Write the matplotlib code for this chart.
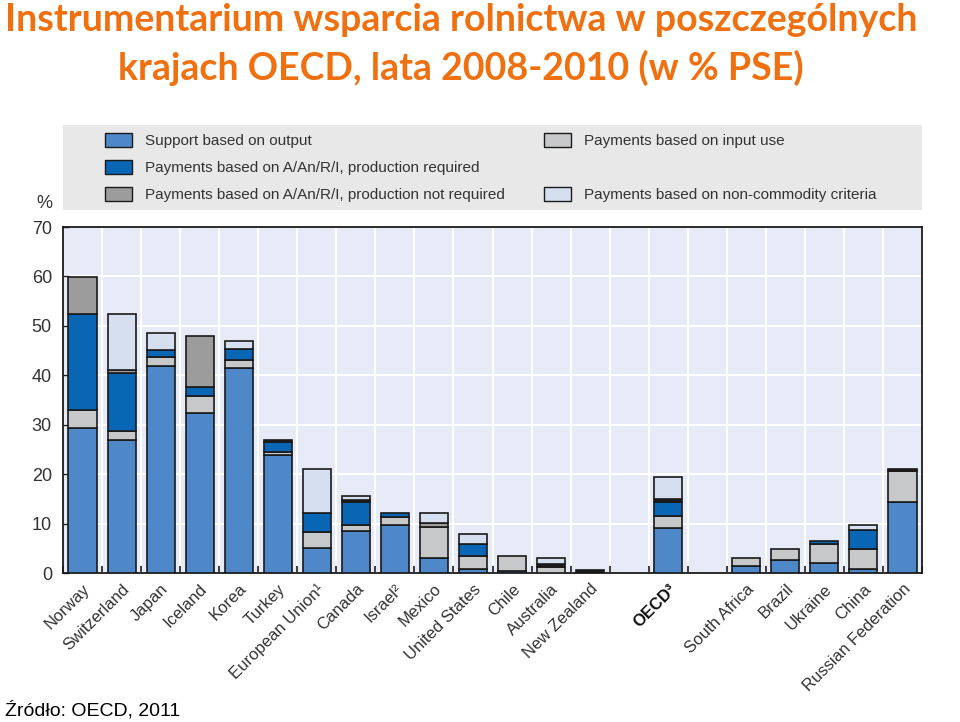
import numpy as np
import matplotlib
matplotlib.use('Agg')
import matplotlib.pyplot as plt
from matplotlib.patches import Patch

countries = ['Norway', 'Switzerland', 'Japan', 'Iceland', 'Korea', 'Turkey',
             'European Union¹', 'Canada', 'Israel²', 'Mexico', 'United States',
             'Chile', 'Australia', 'New Zealand', '', 'OECD³', '',
             'South Africa', 'Brazil', 'Ukraine', 'China', 'Russian Federation']

# % of PSE, stacked from bottom
output   = [29.4, 26.9, 41.8, 32.4, 41.4, 23.8, 5.0, 8.5, 9.7, 3.0, 0.8, 0.5, 0.0, 0.0, 0, 9.2, 0, 1.5, 2.6, 2.0, 0.8, 14.3]
inputs   = [3.5, 1.8, 1.9, 3.4, 1.6, 0.7, 3.2, 1.2, 1.7, 6.4, 2.7, 2.9, 1.3, 0.0, 0, 2.4, 0, 1.5, 2.3, 3.8, 4.1, 6.3]
prod_req = [19.4, 11.8, 1.4, 1.8, 2.4, 2.0, 3.9, 4.7, 0.7, 0.0, 2.4, 0.0, 0.0, 0.0, 0, 2.8, 0, 0.0, 0.0, 0.7, 3.9, 0.0]
not_req  = [7.6, 0.6, 0.0, 10.4, 0.0, 0.0, 0.0, 0.0, 0.0, 0.8, 0.0, 0.0, 0.0, 0.0, 0, 0.0, 0, 0.0, 0.0, 0.0, 0.0, 0.0]
other    = [0.0, 0.0, 0.0, 0.0, 0.0, 0.4, 0.0, 0.4, 0.0, 0.0, 0.0, 0.0, 0.5, 0.6, 0, 0.5, 0, 0.0, 0.0, 0.0, 0.0, 0.4]
noncomm  = [0.0, 11.3, 3.5, 0.0, 1.5, 0.0, 9.0, 0.8, 0.0, 1.9, 2.0, 0.0, 1.2, 0.0, 0, 4.5, 0, 0.0, 0.0, 0.0, 0.9, 0.0]

series = [
    (output,   '#4f88c9', 'Support based on output'),
    (inputs,   '#c6c8ca', 'Payments based on input use'),
    (prod_req, '#0866b5', 'Payments based on A/An/R/I, production required'),
    (not_req,  '#9c9c9c', 'Payments based on A/An/R/I, production not required'),
    (other,    '#1a1a1a', None),
    (noncomm,  '#d5dff0', 'Payments based on non-commodity criteria'),
]

narrow = ['Liberation Sans', 'DejaVu Sans']

fig = plt.figure(figsize=(9.6, 7.22), dpi=100)
ax = fig.add_axes([63/960, 149/722, 859/960, 346/722])
ax.set_facecolor('#e6ebf7')

x = np.arange(len(countries))
bottom = np.zeros(len(countries))
for vals, col, lab in series:
    vals = np.array(vals, dtype=float)
    mask = vals > 0
    ax.bar(x[mask], vals[mask], 0.72, bottom=bottom[mask], color=col,
           edgecolor='#1a1a1a', linewidth=1.2, zorder=3)
    bottom += vals

ax.set_xlim(-0.5, len(countries) - 0.5)
ax.set_ylim(0, 70)
ax.set_yticks(range(0, 71, 10))
ax.set_yticklabels([str(v) for v in range(0, 71, 10)], family=narrow, fontsize=13, color='#333333')
ax.set_xticks(np.arange(len(countries) + 1) - 0.5, minor=True)
ax.set_xticks(x)
ax.tick_params(axis='x', which='major', length=0, pad=6)
ax.tick_params(axis='x', which='minor', direction='in', length=5, width=1.2, color='#1a1a1a')
ax.tick_params(axis='y', direction='in', length=4, width=1, color='#1a1a1a', pad=8)
ax.grid(axis='y', color='white', linewidth=1.5, zorder=0)
ax.grid(axis='x', which='minor', color='white', linewidth=1.5, zorder=0)
for s in ax.spines.values():
    s.set_color('#1a1a1a')
    s.set_linewidth(1.3)

labels = ax.set_xticklabels(countries, rotation=45, ha='right', rotation_mode='anchor',
                            family=narrow, fontsize=12, color='#333333')
labels[15].set_fontweight('bold')
labels[15].set_color('#111111')

fig.text(44/960, 1 - 204/722, '%', ha='center', va='center', family=narrow, fontsize=13, color='#333333')

# legend box
lax = fig.add_axes([63/960, 512/722, 859/960, 85/722])
lax.set_facecolor('#e8e8e8')
lax.set_xticks([])
lax.set_yticks([])
for s in lax.spines.values():
    s.set_visible(False)
h = {lab: Patch(facecolor=col, edgecolor='#1a1a1a', linewidth=1.0) for _, col, lab in series if lab}
blank = Patch(facecolor='none', edgecolor='none')
handles = [h[series[0][2]], h[series[2][2]], h[series[3][2]], h[series[1][2]], blank, h[series[5][2]]]
names = [series[0][2], series[2][2], series[3][2], series[1][2], '', series[5][2]]
lax.legend(handles, names, ncol=2, loc='center left', bbox_to_anchor=(0.04, 0.5),
           frameon=False, prop={'family': narrow, 'size': 11}, handlelength=1.8,
           handleheight=1.1, labelspacing=0.75, columnspacing=2.5, handletextpad=0.85,
           labelcolor='#333333', borderpad=0)

fig.text(0.48, 1 - 20/722, 'Instrumentarium wsparcia rolnictwa w poszczególnych',
         ha='center', va='center', color='#f07010', family=['Lato', 'DejaVu Sans'],
         fontweight='bold', fontsize=27)
fig.text(0.48, 1 - 68/722, 'krajach OECD, lata 2008-2010 (w % PSE)',
         ha='center', va='center', color='#f07010', family=['Lato', 'DejaVu Sans'],
         fontweight='bold', fontsize=27)

fig.text(5/960, 1 - 710/722, 'Źródło: OECD, 2011', ha='left', va='center',
         family=['Liberation Sans', 'DejaVu Sans'], fontsize=14, color='black')

fig.savefig('out.png', dpi=100)
